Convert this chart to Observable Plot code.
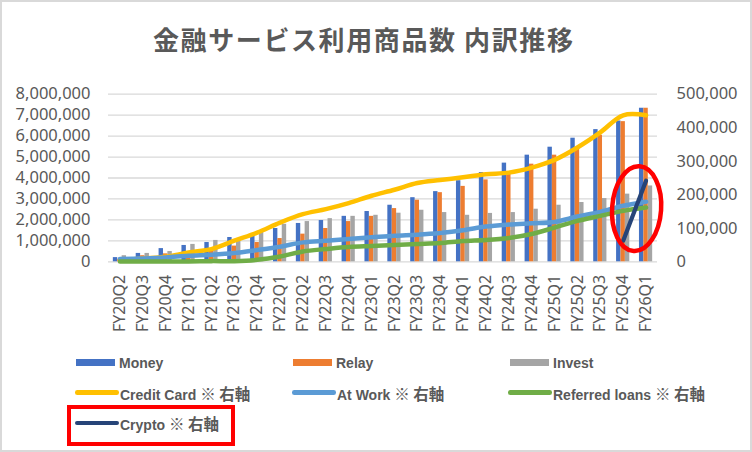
<!DOCTYPE html>
<html><head><meta charset="utf-8">
<script src="https://cdn.jsdelivr.net/npm/d3@7"></script>
<script src="https://cdn.jsdelivr.net/npm/@observablehq/plot@0.6"></script>
<style>
html,body{margin:0;padding:0;background:#fff;}
#wrap{position:relative;width:752px;height:452px;box-sizing:border-box;border:2px solid #d9d9d9;overflow:hidden;background:#fff;}
#title{position:absolute;left:151px;top:20px;font:bold 26px "Noto Sans CJK JP";letter-spacing:1.6px;color:#595959;white-space:nowrap;line-height:34px;}
#chart{position:absolute;left:-2px;top:58px;width:752px;}
#chart svg{max-width:none !important;width:752px;height:282px;}
.sw{position:absolute;}
.lt{position:absolute;font:bold 14px "Liberation Sans","Noto Sans CJK JP";color:#595959;white-space:nowrap;line-height:20px;}
.lt span{font-size:15.5px;font-family:"Noto Sans CJK JP";}
#box{position:absolute;left:65px;top:403px;width:168px;height:41px;border:4.3px solid #ff0000;box-sizing:border-box;}
</style></head>
<body>
<div id="wrap">
<div id="title">金融サービス利用商品数 内訳推移</div>
<div id="chart"></div>
<div id="legend"></div>
<div id="box"></div>
</div>
<script>
const cats = ["FY20Q2","FY20Q3","FY20Q4","FY21Q1","FY21Q2","FY21Q3","FY21Q4","FY22Q1","FY22Q2","FY22Q3","FY22Q4","FY23Q1","FY23Q2","FY23Q3","FY23Q4","FY24Q1","FY24Q2","FY24Q3","FY24Q4","FY25Q1","FY25Q2","FY25Q3","FY25Q4","FY26Q1"];
const money = [200000,400000,630000,780000,920000,1160000,1240000,1590000,1830000,1970000,2170000,2400000,2700000,3060000,3350000,3870000,4260000,4710000,5090000,5470000,5900000,6310000,6720000,7330000];
const relay = [120000,290000,380000,490000,620000,750000,920000,1110000,1320000,1590000,1920000,2170000,2540000,2940000,3300000,3600000,3910000,4200000,4660000,5090000,5410000,6040000,6690000,7330000];
const invest = [290000,400000,490000,830000,1020000,1050000,1400000,1790000,1920000,2060000,2170000,2220000,2320000,2460000,2350000,2220000,2310000,2350000,2510000,2700000,2830000,3020000,3230000,3620000];
// right axis series
const creditCard = [5000,10000,15000,28000,38000,63000,87000,117000,142000,157000,175000,197000,215000,235000,244000,252000,261000,266000,281000,304000,341000,386000,437000,437000];
const atWork = [8000,10000,13000,18000,21000,26000,35000,45000,58000,63000,68000,73000,78000,81000,86000,94000,105000,111000,115000,119000,135000,149000,167000,179000];
const referredLoans = [1000,1000,1000,1000,2000,2000,6000,16000,31000,38000,44000,47000,50000,53000,56000,62000,65000,71000,83000,102000,122000,137000,152000,162000];
const crypto = [null,null,null,null,null,null,null,null,null,null,null,null,null,null,null,null,null,null,null,null,null,null,63000,242000];
const leftTicks = [0,1000000,2000000,3000000,4000000,5000000,6000000,7000000,8000000];
const rightTicks = [0,100000,200000,300000,400000,500000];
const highlight = ["FY25Q4","FY26Q1"];
const highlightValue = 157000;

const ratio = leftTicks[leftTicks.length-1] / rightTicks[rightTicks.length-1];
const rows = cats.map((c,i)=>({cat:c, money:money[i], relay:relay[i], invest:invest[i],
  cc:creditCard[i]*ratio, aw:atWork[i]*ratio, rl:referredLoans[i]*ratio, cr: crypto[i]==null?null:crypto[i]*ratio}));

const W = 752, H = 282, ML = 108, MR = 95, MT = 33.7, MB = H - 201.3;
const bw = (W - ML - MR) / cats.length;
const barW = 4.4;
const off = (bw - 3*barW)/2;
const fmt = d3.format(",");

const ellipseMark = (index, scales) => {
  const x = scales.x, y = scales.y;
  const cx = (x(highlight[0]) + x(highlight[1]))/2 + bw/2 + 2.5;
  const cy = y(highlightValue*ratio);
  const e = d3.create("svg:ellipse")
    .attr("cx", cx).attr("cy", cy).attr("rx", 24.5).attr("ry", 42.5)
    .attr("fill","none").attr("stroke","#ff0000").attr("stroke-width",4.5)
    .attr("transform", `rotate(4 ${cx} ${cy})`);
  return e.node();
};

const lineOpts = (key, color, w) => ({x:"cat", y:key, stroke:color, strokeWidth:w, curve:"catmull-rom", strokeLinecap:"round", strokeLinejoin:"round"});

const chart = Plot.plot({
  width: W, height: H, marginLeft: ML, marginRight: MR, marginTop: MT, marginBottom: MB,
  x: {type:"band", domain: cats, padding: 0, round: false, label: null},
  y: {domain:[0, leftTicks[leftTicks.length-1]], label: null},
  style: {fontFamily:"Noto Sans", fontSize:"16.5px", color:"#595959", background:"transparent", overflow:"visible"},
  marks: [
    Plot.gridY(leftTicks, {stroke:"#d9d9d9", strokeOpacity:1, strokeWidth:1.3}),
    Plot.axisY({ticks:leftTicks, tickSize:0, tickPadding:18, tickFormat:fmt, label:null, fill:"#595959"}),
    Plot.axisY({anchor:"right", ticks:rightTicks.map(v=>v*ratio), tickSize:0, tickPadding:19, tickFormat:d=>fmt(Math.round(d/ratio)), label:null, fill:"#595959"}),
    Plot.axisX({tickRotate:-90, tickSize:0, tickPadding:13, label:null, fontSize:16, fill:"#595959"}),
    Plot.barY(rows, {x:"cat", y:"money", fill:"#4472C4", insetLeft:off, insetRight:bw-off-barW}),
    Plot.barY(rows, {x:"cat", y:"relay", fill:"#ED7D31", insetLeft:off+barW, insetRight:bw-off-2*barW}),
    Plot.barY(rows, {x:"cat", y:"invest", fill:"#A5A5A5", insetLeft:off+2*barW, insetRight:bw-off-3*barW}),
    Plot.lineY(rows, lineOpts("cc", "#FFC000", 4.5)),
    Plot.lineY(rows, lineOpts("aw", "#5B9BD5", 4.5)),
    Plot.lineY(rows, lineOpts("rl", "#70AD47", 4.5)),
    Plot.lineY(rows, lineOpts("cr", "#264478", 4.2)),
    ellipseMark
  ]
});
document.getElementById("chart").appendChild(chart);

// legend
const legendItems = [
  {label:"Money", color:"#4472C4", type:"bar", x:76, y:362.7},
  {label:"Relay", color:"#ED7D31", type:"bar", x:293, y:362.7},
  {label:"Invest", color:"#A5A5A5", type:"bar", x:510, y:362.7},
  {label:"Credit Card", note:"※ 右軸", color:"#FFC000", type:"line", x:75, y:392.7},
  {label:"At Work", note:"※ 右軸", color:"#5B9BD5", type:"line", x:292, y:392.7},
  {label:"Referred loans", note:"※ 右軸", color:"#70AD47", type:"line", x:508, y:392.7},
  {label:"Crypto", note:"※ 右軸", color:"#264478", type:"line", x:75, y:423}
];
const lg = document.getElementById("legend");
for (const it of legendItems) {
  const sw = document.createElement("div");
  sw.className = "sw";
  if (it.type === "bar") {
    Object.assign(sw.style, {left:(it.x-2)+"px", top:(it.y-3.3-2)+"px", width:"39px", height:"6.6px", background:it.color});
  } else {
    Object.assign(sw.style, {left:(it.x-2)+"px", top:(it.y-2.3-2)+"px", width:"44px", height:"4.6px", background:it.color, borderRadius:"2.3px"});
  }
  lg.appendChild(sw);
  const t = document.createElement("div");
  t.className = "lt";
  t.style.left = (it.x + (it.type==="bar"?43:45) - 2) + "px";
  t.style.top = (it.y - 10 - 2) + "px";
  t.innerHTML = it.label + (it.note ? ` <span>${it.note}</span>` : "");
  lg.appendChild(t);
}
</script>
</body></html>
